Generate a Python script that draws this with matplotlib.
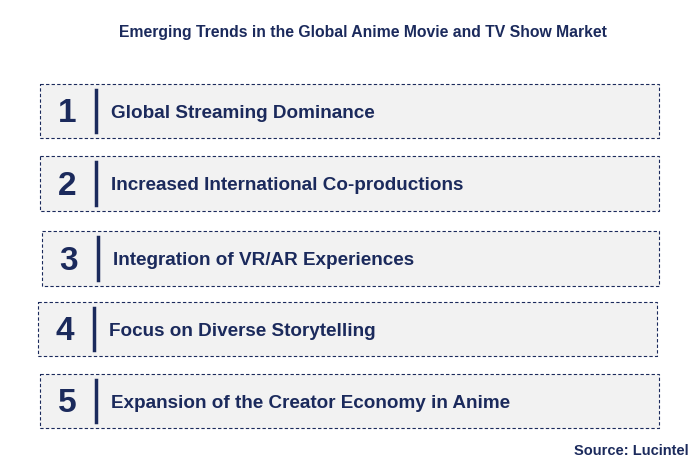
import matplotlib.pyplot as plt
from matplotlib.patches import Rectangle

TITLE = "Emerging Trends in the Global Anime Movie and TV Show Market"
NUMBERS = ["1", "2", "3", "4", "5"]
TRENDS = [
    "Global Streaming Dominance",
    "Increased International Co-productions",
    "Integration of VR/AR Experiences",
    "Focus on Diverse Storytelling",
    "Expansion of the Creator Economy in Anime",
]
SOURCE = "Source: Lucintel"

# box layout in pixel coordinates (left, top, right, bottom)
BOXES = [(40, 84, 659, 138), (40, 156, 659, 211), (42, 231, 659, 286),
         (38, 302, 657, 356), (40, 374, 659, 428)]

NAVY = "#1b2a5c"

fig = plt.figure(figsize=(6.95, 4.75), dpi=100)
ax = fig.add_axes([0, 0, 1, 1])
ax.set_xlim(0, 695)
ax.set_ylim(475, 0)
ax.axis("off")

ax.text(363, 32, TITLE, ha="center", va="center", fontsize=11.3,
        fontweight="bold", color=NAVY, family="Liberation Sans")

for num, label, (l, t, r, b) in zip(NUMBERS, TRENDS, BOXES):
    ax.add_patch(Rectangle((l, t), r - l, b - t, facecolor="#f2f2f2",
                           edgecolor=NAVY, linestyle=(0, (3, 2)), linewidth=0.8))
    cy = (t + b) / 2
    ax.text(l + 27, cy + 3, num, ha="center", va="center", fontsize=24,
            fontweight="bold", color=NAVY, family="Liberation Sans")
    ax.plot([l + 56, l + 56], [t + 6, b - 6], color=NAVY, linewidth=2.5)
    ax.text(l + 71, cy + 2, label, ha="left", va="center", fontsize=13.6,
            fontweight="bold", color=NAVY, family="Liberation Sans")

ax.text(689, 451, SOURCE, ha="right", va="center", fontsize=10.5,
        fontweight="bold", color=NAVY, family="Liberation Sans")

fig.savefig("out.png", dpi=100)
